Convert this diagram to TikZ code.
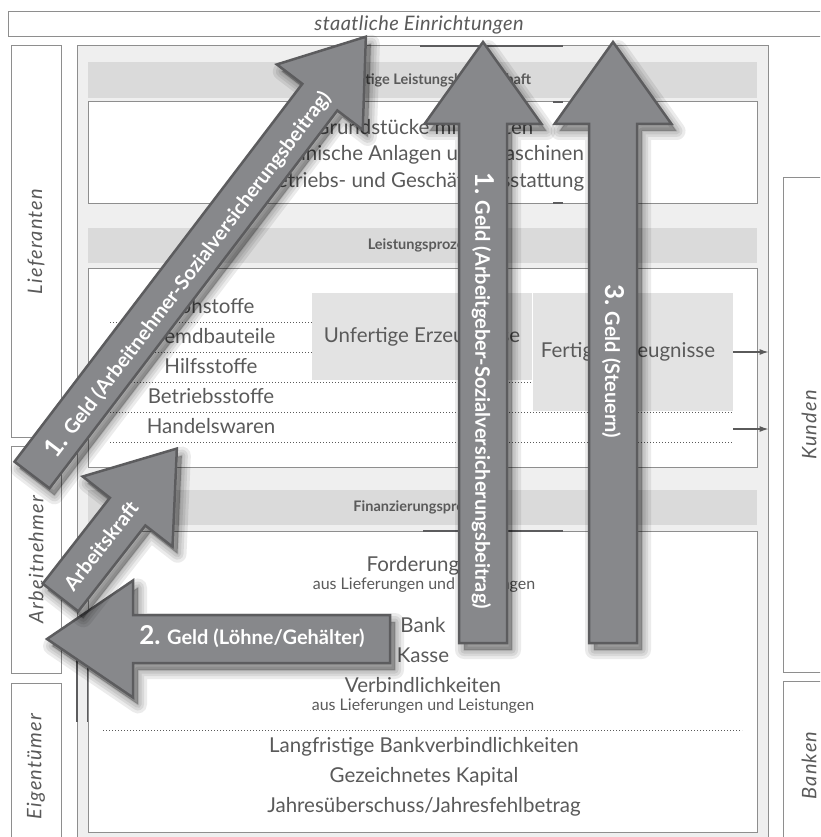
\documentclass[tikz,border=0pt]{standalone}
\usepackage{fontspec}
\setmainfont{Lato}
\usetikzlibrary{positioning}
\usetikzlibrary{arrows.meta}

\definecolor{txtgray}{HTML}{5A5A5A}
\definecolor{linegray}{HTML}{8E8E8E}
\definecolor{framefill}{HTML}{EFEFEF}
\definecolor{bandfill}{HTML}{DADADA}
\definecolor{stockfill}{HTML}{E3E3E3}
\definecolor{flowfill}{HTML}{87888B}
\definecolor{flowline}{HTML}{5C5C5E}

% arrow outline along the x axis: length, half shaft, half head, head length
\newcommand{\flowpath}[4]{(0,-#2) -- ({#1-#4},-#2) -- ({#1-#4},-#3) -- (#1,0) -- ({#1-#4},#3) -- ({#1-#4},#2) -- (0,#2) -- cycle}
% tail point, angle, length, half shaft, half head, head length
\newcommand{\flowarrow}[6]{%
  \begin{scope}[shift={#1}]
    \foreach \w in {18,12,7,2}
      \filldraw[black, opacity=0.08, line width=\w pt, line join=round, shift={(5,7)}, rotate=#2] \flowpath{#3}{#4}{#5}{#6};
    \filldraw[flow, rotate=#2] \flowpath{#3}{#4}{#5}{#6};
  \end{scope}}
\newcommand{\stepno}[1]{{\fontsize{26}{28}\selectfont #1}}

\begin{document}
\begin{tikzpicture}[x=1pt, y=-1pt,
  every node/.style={text=txtgray},
  partybox/.style={draw=linegray, line width=1pt, fill=white, inner sep=0pt, font=\fontsize{20}{24}\selectfont\itshape\addfontfeatures{LetterSpace=6}},
  frame/.style={draw=linegray, line width=1pt, fill=framefill, inner sep=0pt},
  band/.style={fill=bandfill, inner sep=0pt, font=\fontsize{14.5}{17}\selectfont\bfseries},
  box/.style={draw=linegray, line width=1pt, fill=white, inner sep=0pt},
  stock/.style={fill=stockfill, inner sep=0pt, font=\fontsize{20.5}{24}\selectfont},
  item/.style={font=\fontsize{20.5}{24}\selectfont, text height=15pt, text depth=4.5pt, inner sep=0pt},
  note/.style={font=\fontsize{16}{18}\selectfont, text height=12pt, text depth=3.5pt, inner sep=0pt},
  sep/.style={draw=txtgray, line width=0.9pt, dash pattern=on 0.9pt off 2.1pt},
  accent/.style={draw=flowline, line width=2pt},
  sale/.style={draw=txtgray, line width=1.2pt, -{Latex[length=9pt, width=6pt]}},
  flow/.style={fill=flowfill, draw=flowline, line width=2.5pt, line join=miter},
  flowtext/.style={text=white, font=\fontsize{20}{22}\selectfont\bfseries, inner sep=0pt}
]
\useasboundingbox (0,0) rectangle (820,837);
\clip (0,0) rectangle (820,837);

% parties around the company
\node[partybox, minimum width=822pt, minimum height=25pt, font=\fontsize{20}{24}\selectfont\itshape\addfontfeatures{LetterSpace=2}] (staat) at (419,24.5) {staatliche Einrichtungen};
\node[partybox, rotate=90, minimum width=391pt, minimum height=50pt] (lieferanten) at (36,241.5) {Lieferanten};
\node[partybox, rotate=90, minimum width=227pt, minimum height=50pt] (arbeitnehmer) at (36,559.5) {Arbeitnehmer};
\node[partybox, rotate=90, minimum width=167pt, minimum height=50pt] (eigentuemer) at (36,766.5) {Eigentümer};
\node[partybox, rotate=90, minimum width=494pt, minimum height=52pt] (kunden) at (809,425) {Kunden};
\node[partybox, rotate=90, minimum width=169pt, minimum height=52pt] (banken) at (809,765.5) {Banken};

% company
\node[frame, minimum width=691pt, minimum height=800pt] (betrieb) at (422.5,446) {};
\draw[accent] (420,46) -- (563,46);
\draw[accent] (77,650) -- (77,722);
\draw[accent] (88,650) -- (88,722);

\node[band, minimum width=669pt, minimum height=36pt] (bandAV) at (422.5,80) {Langfristige Leistungsbereitschaft};
\node[box, minimum width=669pt, minimum height=101pt] (anlage) at (422.5,152.5) {};
\draw[accent] (553,102) -- (563,102);
\draw[accent] (553,203) -- (563,203);
\node[item] (grund) at (424,129) {Grundstücke mit Bauten};
\node[item, on grid, below=26pt of grund] (anlagen) {Technische Anlagen und Maschinen};
\node[item, on grid, below=27pt of anlagen] (bga) {Betriebs- und Geschäftsausstattung};

\node[band, minimum width=669pt, minimum height=35pt] (bandLP) at (422.5,245.5) {Leistungsprozess};
\node[box, minimum width=669pt, minimum height=199pt] (leistung) at (422.5,367.5) {};
\foreach \y in {322,352,382,412,442}
  \draw[sep] (110,\y) -- (733,\y);
\node[stock, minimum width=220pt, minimum height=87pt] (unfertig) at (422,336.5) {Unfertige Erzeugnisse};
\node[stock, minimum width=200pt, minimum height=118pt] (fertig) at (633,352) {Fertige Erzeugnisse\hspace*{10pt}};
\node[item] (roh) at (211,308) {Rohstoffe};
\node[item, on grid, below=30pt of roh] (fremd) {Fremdbauteile};
\node[item, on grid, below=30pt of fremd] (hilfs) {Hilfsstoffe};
\node[item, on grid, below=30pt of hilfs] (betriebs) {Betriebsstoffe};
\node[item, on grid, below=30pt of betriebs] (handel) {Handelswaren};
\coordinate (handelEnd) at (733,429);
\draw[sale] (fertig.east) -- (fertig.east -| betrieb.east);
\draw[sale] (handelEnd) -- (handelEnd -| betrieb.east);

\node[band, minimum width=669pt, minimum height=35pt] (bandFP) at (422.5,507.5) {Finanzierungsprozess};
\node[box, minimum width=669pt, minimum height=301pt] (finanz) at (422.5,681.5) {};
\draw[accent] (423,531) -- (563,531);
\node[item] (ford) at (424,566) {Forderungen};
\node[note, on grid, below=19pt of ford] (fordLL) {aus Lieferungen und Leistungen};
\node[item] (bank) at (423,627) {Bank};
\node[item, on grid, below=30pt of bank] (kasse) {Kasse};
\node[item, on grid, below=30pt of kasse] (verb) {Verbindlichkeiten};
\node[note, on grid, below=19pt of verb] (verbLL) {aus Lieferungen und Leistungen};
\draw[sep] (103,730) -- (742,730);
\node[item] (langfr) at (424,747) {Langfristige Bankverbindlichkeiten};
\node[item, on grid, below=30pt of langfr] (kapital) {Gezeichnetes Kapital};
\node[item, on grid, below=30pt of kapital] (jahres) {Jahresüberschuss/Jahresfehlbetrag};

% money and labour flows
\flowarrow{(390,639)}{180}{343}{24}{58.5}{86}
\node[flowtext] (geldLohn) at (252,637) {\stepno{2.} Geld (Löhne/Gehälter)};

\flowarrow{(32,475)}{52.7}{551}{22}{54}{76}
\node[flowtext, rotate=52.7] (geldAN) at (188,274) {\stepno{1.} Geld (Arbeitnehmer-Sozialversicherungsbeitrag)};

\flowarrow{(60.5,597.5)}{52}{189}{22.5}{57}{80}
\node[flowtext, rotate=52] (kraft) at (101,546) {Arbeitskraft};

\flowarrow{(483,643)}{90}{601}{24}{58.5}{82}
\node[flowtext, rotate=-90] (geldAG) at (483,391) {\stepno{1.} Geld (Arbeitgeber-Sozialversicherungsbeitrag)};

\flowarrow{(613,643)}{90}{601}{24}{58.5}{82}
\node[flowtext, rotate=-90] (geldSt) at (613,361) {\stepno{3.} Geld (Steuern)};

\end{tikzpicture}
\end{document}
